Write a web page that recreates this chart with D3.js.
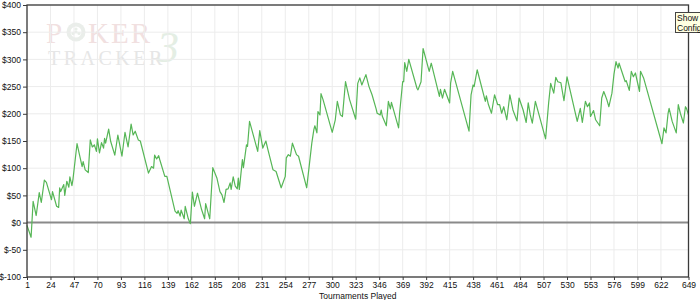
<!DOCTYPE html>
<html>
<head>
<meta charset="utf-8">
<script src="https://cdn.jsdelivr.net/npm/d3@7"></script>
<style>
  body { margin: 0; background: #fff; }
  svg { display: block; font-family: "Liberation Sans", Arial, sans-serif; }
</style>
</head>
<body>
<div id="chart-container"></div>
<script>
// tournament number of each turning point, and running profit ($) there
const tournaments = [1,5,7,10,13,15,18,20,25,26,30,32,33,34,37,38,40,42,43,45,46,50,55,56,58,61,63,65,67,69,70,72,74,76,77,78,81,83,87,90,94,97,100,103,105,107,110,112,120,123,125,126,128,130,131,136,138,146,148,149,151,152,155,156,159,161,163,165,168,172,175,176,180,183,187,190,192,194,196,198,200,201,203,205,207,208,209,212,213,216,217,219,227,229,232,235,237,242,245,250,254,255,257,259,261,265,267,275,277,280,282,283,285,286,288,289,291,300,303,305,308,310,313,317,323,325,327,329,333,336,339,343,344,347,348,349,353,355,357,358,365,366,369,370,371,373,375,383,384,387,389,395,397,405,406,408,410,415,416,418,434,436,438,439,442,450,451,453,456,459,462,464,466,468,471,474,477,481,483,487,490,492,494,496,499,509,512,514,517,519,521,524,527,530,540,543,545,548,550,552,553,556,558,562,564,566,569,571,574,576,578,580,581,587,588,591,593,595,597,601,602,605,623,625,627,629,630,633,637,639,641,644,646,647,649];
const profit = [-5,-27,39,13,55,37,78,74,42,57,30,28,64,57,70,50,76,65,84,68,79,145,103,112,97,92,152,139,143,131,154,128,147,137,155,146,172,149,124,161,122,166,139,181,161,168,152,150,91,103,100,124,117,123,116,85,85,21,17,22,12,23,7,30,7,-2,56,30,54,24,7,35,7,101,82,57,51,37,61,62,73,61,84,67,62,82,61,116,101,143,140,186,131,169,137,150,134,97,94,64,85,119,125,122,146,125,122,64,97,146,171,178,165,204,198,237,226,166,189,223,198,195,259,226,190,256,266,253,272,250,235,209,201,198,207,196,178,223,209,221,174,201,259,259,294,278,300,247,244,259,320,278,293,232,245,229,245,220,257,278,168,235,253,250,281,223,233,217,201,235,217,217,201,213,189,235,207,187,229,207,184,220,198,183,223,154,220,256,238,267,259,257,224,268,186,210,184,223,213,220,195,206,189,178,229,241,226,213,238,273,296,284,293,259,261,243,278,268,275,241,278,266,145,174,165,201,210,186,165,217,201,183,213,210,198];

const xTicks = [1,24,47,70,93,116,139,162,185,208,231,254,277,300,323,346,369,392,415,438,461,484,507,530,553,576,599,622,649];
const yTicks = [-100,-50,0,50,100,150,200,250,300,350,400];

const data = tournaments.map((t, i) => ({t: t, v: profit[i]}));

const W = 700, H = 300;
const margin = {top: 5, right: 11.5, bottom: 23, left: 27};

const svg = d3.select("#chart-container")
    .append("svg")
        .attr("width", W)
        .attr("height", H);

const x = d3.scaleLinear().domain([1, 649]).range([margin.left, W - margin.right]);
const y = d3.scaleLinear().domain([-100, 400]).range([H - margin.bottom, margin.top]);

// watermark
const wm = svg.append("g").attr("font-family", "'Liberation Serif', 'DejaVu Serif', serif");
wm.append("text").attr("x", 168).attr("y", 62).attr("font-size", 44)
    .attr("fill", "#e4eee4").attr("text-anchor", "middle").attr("font-style", "italic").text("3");
wm.append("text").attr("x", 46).attr("y", 43).attr("font-size", 29)
    .attr("fill", "#f1e0e0").text("P");
const chip = wm.append("g").attr("transform", "translate(76,32)");
chip.append("circle").attr("r", 9.5).attr("fill", "#eaeeea");
chip.append("circle").attr("r", 5.5).attr("fill", "#fff");
[[0,-3],[-3,1.5],[3,1.5],[0,0]].forEach(p => {
    chip.append("circle").attr("cx", p[0]).attr("cy", p[1]).attr("r", 1.6).attr("fill", "#e8eee8");
});
wm.append("text").attr("x", 88).attr("y", 43).attr("font-size", 29)
    .attr("fill", "#f1e0e0").attr("letter-spacing", 2).text("KER");
wm.append("text").attr("x", 48).attr("y", 65).attr("font-size", 20)
    .attr("fill", "#e6e6e6").attr("letter-spacing", 3.5).text("TRACKER");

// grid
svg.append("g")
    .selectAll("line")
    .data(xTicks)
    .join("line")
        .attr("x1", d => x(d)).attr("x2", d => x(d))
        .attr("y1", margin.top).attr("y2", H - margin.bottom)
        .attr("stroke", "#ececec");
svg.append("g")
    .selectAll("line")
    .data(yTicks)
    .join("line")
        .attr("x1", margin.left).attr("x2", W - margin.right)
        .attr("y1", d => y(d)).attr("y2", d => y(d))
        .attr("stroke", "#ececec");

// zero line
svg.append("line")
    .attr("x1", margin.left).attr("x2", W - margin.right)
    .attr("y1", y(0)).attr("y2", y(0))
    .attr("stroke", "#8a8a8a").attr("stroke-width", 2);

// profit line
const line = d3.line().x(d => x(d.t)).y(d => y(d.v));
svg.append("path")
    .datum(data)
    .attr("fill", "none")
    .attr("stroke", "#56b656")
    .attr("stroke-width", 1.2)
    .attr("stroke-linejoin", "round")
    .attr("d", line);

// frame
svg.append("rect")
    .attr("x", margin.left).attr("y", margin.top)
    .attr("width", W - margin.right - margin.left)
    .attr("height", H - margin.bottom - margin.top)
    .attr("fill", "none").attr("stroke", "#3a3a3a").attr("stroke-width", 1.3);

// axes
const yAxis = d3.axisLeft(y).tickValues(yTicks).tickSize(4).tickPadding(2)
    .tickFormat(d => "$" + d);
svg.append("g")
    .attr("transform", `translate(${margin.left},0)`)
    .call(yAxis)
    .call(g => g.select(".domain").remove())
    .call(g => g.selectAll("line").attr("stroke", "#3a3a3a"))
    .call(g => g.selectAll("text").attr("font-size", 8.5).attr("fill", "#111").attr("font-family", null));

const xAxis = d3.axisBottom(x).tickValues(xTicks).tickSize(3).tickPadding(2);
svg.append("g")
    .attr("transform", `translate(0,${H - margin.bottom})`)
    .call(xAxis)
    .call(g => g.select(".domain").remove())
    .call(g => g.selectAll("line").attr("stroke", "#3a3a3a"))
    .call(g => g.selectAll("text").attr("font-size", 8.5).attr("fill", "#111").attr("font-family", null));

svg.append("text")
    .attr("x", (margin.left + W - margin.right) / 2)
    .attr("y", 299)
    .attr("text-anchor", "middle")
    .attr("font-size", 8.5)
    .attr("fill", "#111")
    .text("Tournaments Played");

// show config button (cut off at the window edge, as in the original)
const btn = svg.append("g");
btn.append("rect")
    .attr("x", 675.5).attr("y", 12.5).attr("width", 30).attr("height", 20)
    .attr("fill", "#ffffe1").attr("stroke", "#444");
btn.append("text").attr("x", 677).attr("y", 21).attr("font-size", 8.5).attr("fill", "#111").text("Show");
btn.append("text").attr("x", 677).attr("y", 30.5).attr("font-size", 8.5).attr("fill", "#111").text("Config");
</script>
</body>
</html>
